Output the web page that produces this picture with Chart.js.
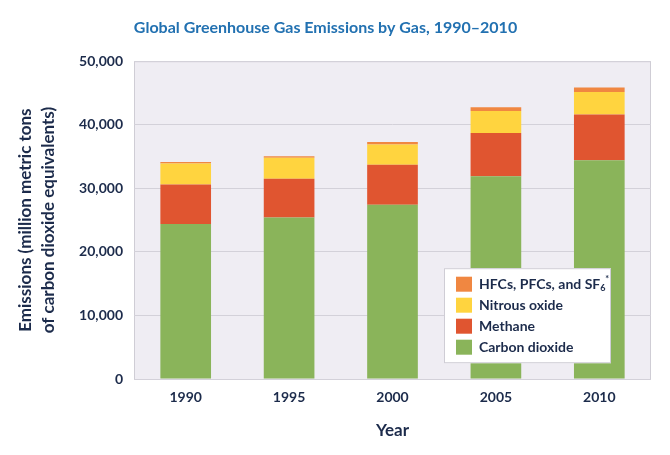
<!DOCTYPE html>
<html>
<head>
<meta charset="utf-8">
<script src="https://cdn.jsdelivr.net/npm/chart.js@4/dist/chart.umd.min.js"></script>
<style>
  html, body { margin: 0; padding: 0; background: #fff; }
  #wrap { width: 670px; height: 455px; position: relative; }
</style>
</head>
<body>
<div id="wrap"><canvas id="ghgChart"></canvas></div>
<script>
// data (million metric tons CO2 equivalent)
const years = ['1990', '1995', '2000', '2005', '2010'];
const carbonDioxide = [24400, 25400, 27400, 31900, 34400];
const methane = [6200, 6100, 6300, 6800, 7200];
const nitrousOxide = [3300, 3300, 3200, 3450, 3550];
const fluorinated = [250, 250, 400, 600, 700];
const yTicks = [0, 10000, 20000, 30000, 40000, 50000];

const navy = '#1c2b4b';
const fontFam = 'Lato, "Open Sans", sans-serif';

// plot background, frame and legend box
const plotDecor = {
  id: 'plotDecor',
  beforeDraw(chart) {
    const { ctx, chartArea: a } = chart;
    ctx.save();
    ctx.fillStyle = '#efedf3';
    ctx.fillRect(a.left, a.top, a.right - a.left, a.bottom - a.top);
    ctx.strokeStyle = '#cfcdd5';
    ctx.lineWidth = 1;
    ctx.strokeRect(a.left + 0.5, a.top + 0.5, a.right - a.left - 1, a.bottom - a.top);
    ctx.restore();
  },
  afterDatasetsDraw(chart) {
    const { ctx, chartArea: a } = chart;
    const bx = a.right - 207, by = a.top + 207, bw = 167, bh = 95;
    ctx.save();
    ctx.fillStyle = '#ffffff';
    ctx.fillRect(bx, by, bw, bh);
    ctx.strokeStyle = '#cfcdd5';
    ctx.strokeRect(bx + 0.5, by + 0.5, bw - 1, bh - 1);
    const items = chart.data.datasets.slice().reverse();
    ctx.font = 'bold 14px ' + fontFam;
    ctx.textBaseline = 'middle';
    items.forEach((ds, i) => {
      const cy = by + 16 + i * 21;
      ctx.fillStyle = ds.backgroundColor;
      ctx.fillRect(bx + 12, cy - 7.5, 16, 15);
      ctx.fillStyle = navy;
      ctx.textAlign = 'left';
      let x = bx + 35;
      if (ds.label === 'HFCs, PFCs, and SF6') {
        const main = 'HFCs, PFCs, and SF';
        ctx.fillText(main, x, cy);
        x += ctx.measureText(main).width;
        ctx.font = 'bold 9px ' + fontFam;
        ctx.fillText('6', x, cy + 4);
        ctx.fillText('*', x + 5, cy - 5);
        ctx.font = 'bold 14px ' + fontFam;
      } else {
        ctx.fillText(ds.label, x, cy);
      }
    });
    ctx.restore();
  }
};

const ctx = document.getElementById('ghgChart').getContext('2d');
new Chart(ctx, {
  type: 'bar',
  data: {
    labels: years,
    datasets: [
      { label: 'Carbon dioxide', data: carbonDioxide, backgroundColor: '#8ab45a' },
      { label: 'Methane', data: methane, backgroundColor: '#e05530' },
      { label: 'Nitrous oxide', data: nitrousOxide, backgroundColor: '#ffd43f' },
      { label: 'HFCs, PFCs, and SF6', data: fluorinated, backgroundColor: '#f08741' }
    ]
  },
  options: {
    responsive: true,
    maintainAspectRatio: false,
    animation: false,
    layout: { padding: { left: 0, right: 19, top: 0, bottom: 0 } },
    datasets: { bar: { categoryPercentage: 1, barPercentage: 0.49 } },
    scales: {
      x: {
        stacked: true,
        grid: { display: false, drawTicks: false },
        border: { display: false },
        ticks: { color: navy, padding: 10, font: { family: fontFam, size: 14, weight: 'bold' } },
        title: {
          display: true, text: 'Year', color: navy,
          font: { family: fontFam, size: 17, weight: 'bold' },
          padding: { top: 0, bottom: 14 }
        },
        afterFit(scale) { scale.height = 76; }
      },
      y: {
        stacked: true,
        min: 0,
        max: 50000,
        afterBuildTicks(scale) { scale.ticks = yTicks.map(v => ({ value: v })); },
        grid: { color: '#d3d1d9', drawTicks: false },
        border: { display: false },
        ticks: {
          color: navy, padding: 11,
          font: { family: fontFam, size: 14, weight: 'bold' },
          callback: v => v.toLocaleString('en-US')
        },
        title: {
          display: true,
          text: ['Emissions (million metric tons', 'of carbon dioxide equivalents)'],
          color: navy,
          font: { family: fontFam, size: 17, weight: 'bold', lineHeight: 1.35 },
          padding: { top: 14, bottom: 0 }
        },
        afterFit(scale) { scale.width = 134; }
      }
    },
    plugins: {
      legend: { display: false },
      tooltip: { enabled: false },
      title: {
        display: true,
        text: 'Global Greenhouse Gas Emissions by Gas, 1990\u20132010',
        color: '#2271b1',
        font: { family: fontFam, size: 16, weight: 'bold' },
        padding: { top: 18, bottom: 24 }
      }
    }
  },
  plugins: [plotDecor]
});
</script>
</body>
</html>
